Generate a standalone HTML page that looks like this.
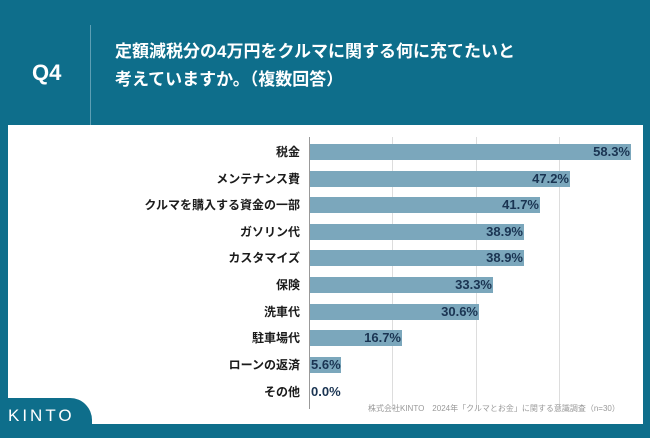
<!DOCTYPE html>
<html><head><meta charset="utf-8"><style>
body{margin:0;width:650px;height:433px;background:#0e6e8b;position:relative;overflow:hidden;font-family:"Liberation Sans","Noto Sans CJK JP",sans-serif}
.q{position:absolute;left:32px;top:60px;color:#fff;font-size:22px;font-weight:bold}
.div{position:absolute;left:90px;top:25px;width:1px;height:106px;background:#5d9fb4}
.t{position:absolute;left:115px;top:38px;color:#fff;font-size:17px;font-weight:bold;line-height:28px}
.panel{position:absolute;left:8px;top:125px;width:635px;height:299px;background:#fff}
.tab{position:absolute;left:0;top:398px;width:92px;height:40px;background:#0e6e8b;border-top-right-radius:22px}
.row{position:absolute;left:0;width:650px;height:18px}
.lab{position:absolute;right:350px;top:0;font-size:12px;font-weight:bold;color:#1b1b1b;white-space:nowrap;line-height:18px}
.bar{position:absolute;left:310px;top:1px;height:16px;background:#7ba7bc}
.v{position:absolute;font-size:13px;font-weight:bold;color:#1a3452;line-height:18px}
.g{position:absolute;top:137px;width:1px;height:272px;background:#ddd}
.kinto{position:absolute;left:8px;top:406px;color:#fff;font-size:17px;letter-spacing:3px}
.src{position:absolute;left:368px;top:403px;font-size:8px;color:#999}
</style></head><body>
<div class="q">Q4</div><div class="div"></div>
<div class="t">定額減税分の4万円をクルマに関する何に充てたいと<br>考えていますか。（複数回答）</div>
<div class="panel"></div>
<div class="g" style="left:392px"></div><div class="g" style="left:476px"></div><div class="g" style="left:559px"></div>
<div class="g" style="left:309px;background:#999"></div>
<div class="row" style="top:143px"><div class="lab">税金</div><div class="bar" style="width:321px"></div><div class="v" style="right:20px">58.3%</div></div>
<div class="row" style="top:170px"><div class="lab">メンテナンス費</div><div class="bar" style="width:260px"></div><div class="v" style="right:81px">47.2%</div></div>
<div class="row" style="top:196px"><div class="lab">クルマを購入する資金の一部</div><div class="bar" style="width:230px"></div><div class="v" style="right:111px">41.7%</div></div>
<div class="row" style="top:223px"><div class="lab">ガソリン代</div><div class="bar" style="width:214px"></div><div class="v" style="right:127px">38.9%</div></div>
<div class="row" style="top:249px"><div class="lab">カスタマイズ</div><div class="bar" style="width:214px"></div><div class="v" style="right:127px">38.9%</div></div>
<div class="row" style="top:276px"><div class="lab">保険</div><div class="bar" style="width:183px"></div><div class="v" style="right:158px">33.3%</div></div>
<div class="row" style="top:303px"><div class="lab">洗車代</div><div class="bar" style="width:169px"></div><div class="v" style="right:172px">30.6%</div></div>
<div class="row" style="top:329px"><div class="lab">駐車場代</div><div class="bar" style="width:92px"></div><div class="v" style="right:249px">16.7%</div></div>
<div class="row" style="top:356px"><div class="lab">ローンの返済</div><div class="bar" style="width:31px"></div><div class="v" style="left:311px">5.6%</div></div>
<div class="row" style="top:383px"><div class="lab">その他</div><div class="v" style="left:311px">0.0%</div></div>
<div class="src">株式会社KINTO　2024年「クルマとお金」に関する意識調査（n=30）</div>
<div class="tab"></div>
<div class="kinto">KINTO</div>
</body></html>
